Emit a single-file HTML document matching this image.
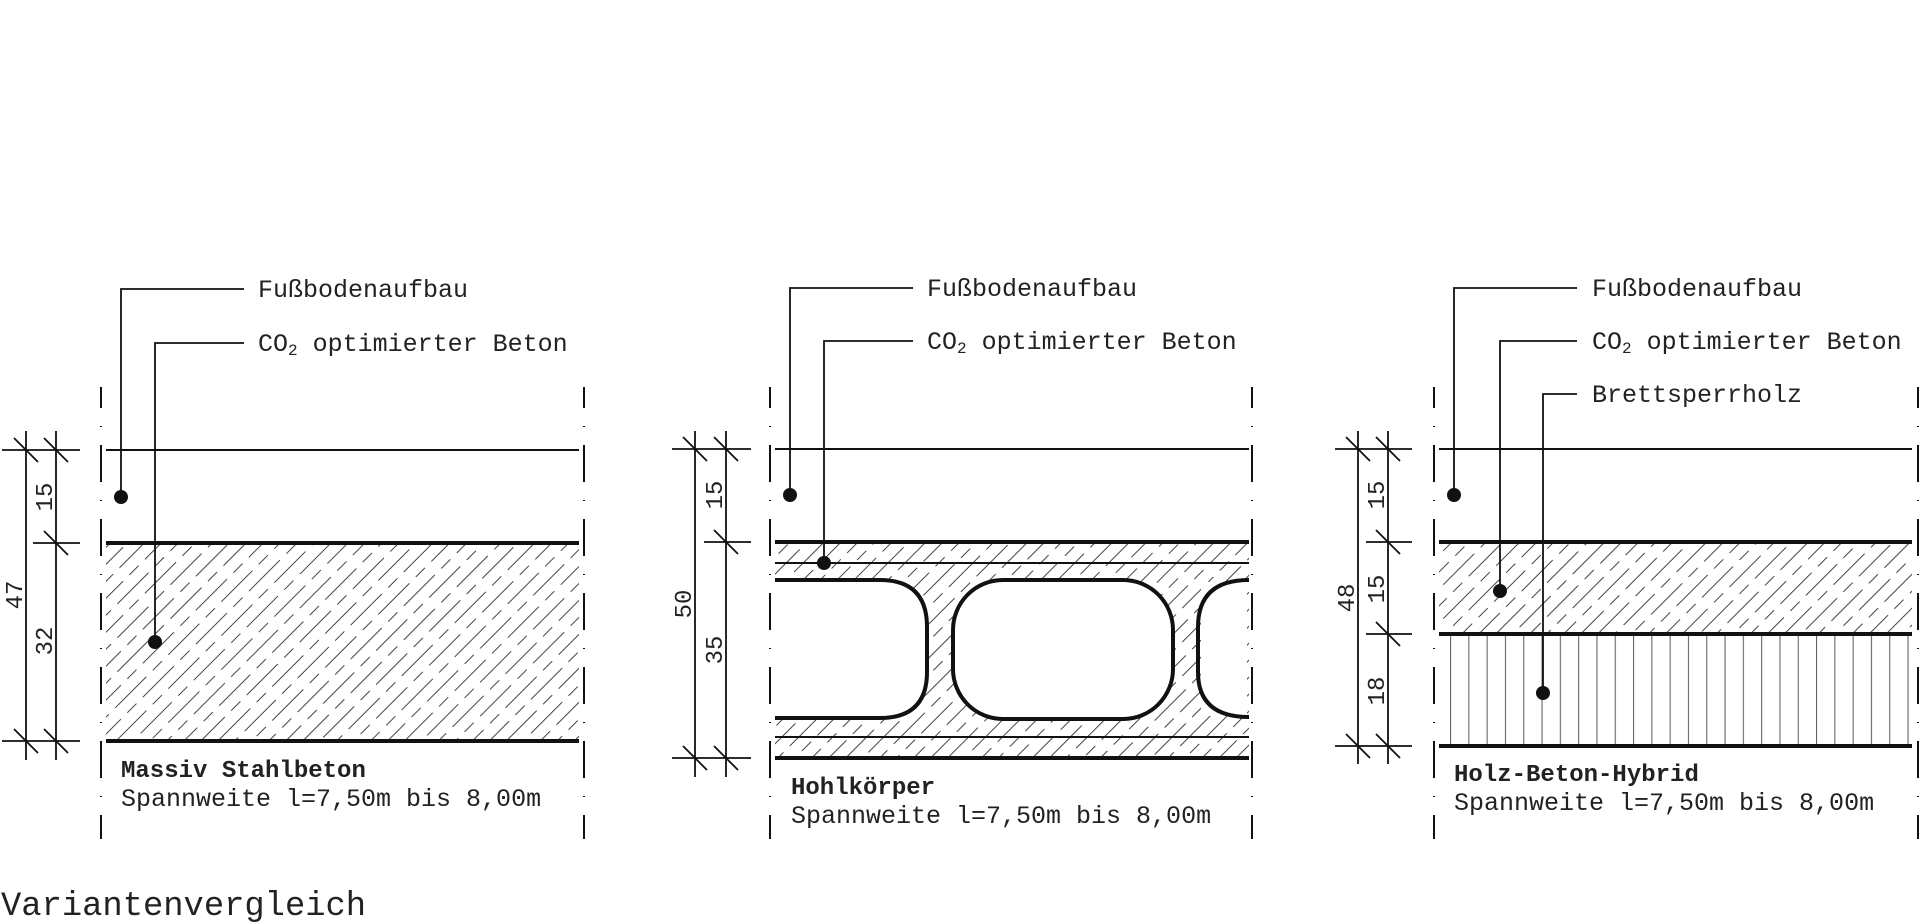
<!DOCTYPE html>
<html><head><meta charset="utf-8"><style>
html,body{margin:0;padding:0;background:#fff;}
svg{display:block;}
text{font-family:"Liberation Mono","DejaVu Sans Mono",monospace;fill:#222;}
</style></head><body>
<svg width="1920" height="924" viewBox="0 0 1920 924" xmlns="http://www.w3.org/2000/svg">
<defs>
<pattern id="h" patternUnits="userSpaceOnUse" width="36" height="75" patternTransform="rotate(45)">
<g stroke="#444" stroke-width="1" stroke-dasharray="44 9 13 9">
<line x1="6" y1="0" x2="6" y2="75"/>
<line x1="18" y1="0" x2="18" y2="75" stroke-dashoffset="27"/>
<line x1="30" y1="0" x2="30" y2="75" stroke-dashoffset="51"/>
</g>
</pattern>
<pattern id="w" patternUnits="userSpaceOnUse" x="1450" width="18.3" height="10">
<line x1="0.5" y1="0" x2="0.5" y2="10" stroke="#666" stroke-width="1.2"/>
</pattern>
</defs>
<g stroke="#111" fill="none">
<g stroke-width="2" stroke-dasharray="37 18 1 18" stroke-dashoffset="16">
<line x1="101" y1="387" x2="101" y2="839"/><line x1="584" y1="387" x2="584" y2="839"/>
<line x1="770" y1="387" x2="770" y2="839"/><line x1="1252" y1="387" x2="1252" y2="839"/>
<line x1="1434" y1="387" x2="1434" y2="839"/><line x1="1918" y1="387" x2="1918" y2="839"/>
</g>
</g>
<!-- PANEL 1 -->
<rect x="106" y="543" width="473" height="198" fill="url(#h)"/>
<g stroke="#111" fill="none">
<line x1="106" y1="450" x2="579" y2="450" stroke-width="2"/>
<line x1="106" y1="543" x2="579" y2="543" stroke-width="4"/>
<line x1="106" y1="741" x2="579" y2="741" stroke-width="4"/>
<polyline points="121,497 121,289 244,289" stroke-width="1.8"/>
<polyline points="155,642 155,343 244,343" stroke-width="1.8"/>
<g stroke-width="1.8">
<line x1="26" y1="431" x2="26" y2="760"/><line x1="56" y1="431" x2="56" y2="760"/>
<line x1="2" y1="450" x2="80" y2="450"/><line x1="33" y1="543" x2="80" y2="543"/><line x1="2" y1="741" x2="80" y2="741"/>
<path d="M14 438l24 24M44 438l24 24M44 531l24 24M14 729l24 24M44 729l24 24"/>
</g>
</g>
<circle cx="121" cy="497" r="7" fill="#111"/><circle cx="155" cy="642" r="7" fill="#111"/>
<text x="258" y="297" font-size="25">Fußbodenaufbau</text>
<text x="258" y="351" font-size="25">CO<tspan font-size="16" dy="4">2</tspan><tspan dy="-4"> optimierter Beton</tspan></text>
<text x="121" y="777" font-size="24" font-weight="bold" fill="#111">Massiv Stahlbeton</text>
<text x="121" y="806" font-size="25">Spannweite l=7,50m bis 8,00m</text>
<text transform="translate(22,595) rotate(-90)" font-size="24" text-anchor="middle">47</text>
<text transform="translate(52,497) rotate(-90)" font-size="24" text-anchor="middle">15</text>
<text transform="translate(52,641) rotate(-90)" font-size="24" text-anchor="middle">32</text>

<!-- PANEL 2 -->
<rect x="775" y="542" width="474" height="217" fill="url(#h)"/>
<g fill="#fff" stroke="#111" stroke-width="4">
<path d="M775 580 H880 Q927 580 927 627 V672 Q927 718 880 718 H775 Z" stroke="none"/>
<path d="M775 580 H880 Q927 580 927 627 V672 Q927 718 880 718 H775"/>
<rect x="953" y="580" width="220" height="139" rx="50" ry="50"/>
<rect x="1201" y="582" width="46" height="134" stroke="none"/>
<path d="M1249 580 Q1198 580 1198 627 V672 Q1198 717 1249 717" fill="none"/>
</g>
<g stroke="#111" fill="none">
<line x1="775" y1="449" x2="1249" y2="449" stroke-width="2"/>
<line x1="775" y1="542" x2="1249" y2="542" stroke-width="4"/>
<line x1="775" y1="563" x2="1249" y2="563" stroke-width="2"/>
<line x1="775" y1="737" x2="1249" y2="737" stroke-width="2"/>
<line x1="775" y1="758" x2="1249" y2="758" stroke-width="4"/>
<polyline points="790,495 790,288 913,288" stroke-width="1.8"/>
<polyline points="824,563 824,341 913,341" stroke-width="1.8"/>
<g stroke-width="1.8">
<line x1="695" y1="431" x2="695" y2="777"/><line x1="726" y1="431" x2="726" y2="777"/>
<line x1="672" y1="449" x2="751" y2="449"/><line x1="704" y1="542" x2="751" y2="542"/><line x1="672" y1="758" x2="751" y2="758"/>
<path d="M683 437l24 24M714 437l24 24M714 530l24 24M683 746l24 24M714 746l24 24"/>
</g>
</g>
<circle cx="790" cy="495" r="7" fill="#111"/><circle cx="824" cy="563" r="7" fill="#111"/>
<text x="927" y="296" font-size="25">Fußbodenaufbau</text>
<text x="927" y="349" font-size="25">CO<tspan font-size="16" dy="4">2</tspan><tspan dy="-4"> optimierter Beton</tspan></text>
<text x="791" y="794" font-size="24" font-weight="bold" fill="#111">Hohlkörper</text>
<text x="791" y="823" font-size="25">Spannweite l=7,50m bis 8,00m</text>
<text transform="translate(691,604) rotate(-90)" font-size="24" text-anchor="middle">50</text>
<text transform="translate(722,495) rotate(-90)" font-size="24" text-anchor="middle">15</text>
<text transform="translate(722,650) rotate(-90)" font-size="24" text-anchor="middle">35</text>

<!-- PANEL 3 -->
<rect x="1439" y="542" width="473" height="93" fill="url(#h)"/>
<rect x="1439" y="635" width="473" height="111" fill="url(#w)"/>
<g stroke="#111" fill="none">
<line x1="1439" y1="449" x2="1912" y2="449" stroke-width="2"/>
<line x1="1439" y1="542" x2="1912" y2="542" stroke-width="4"/>
<line x1="1439" y1="634" x2="1912" y2="634" stroke-width="4"/>
<line x1="1439" y1="746" x2="1912" y2="746" stroke-width="4"/>
<polyline points="1454,495 1454,288 1577,288" stroke-width="1.8"/>
<polyline points="1500,591 1500,341 1577,341" stroke-width="1.8"/>
<polyline points="1543,693 1543,394 1577,394" stroke-width="1.8"/>
<g stroke-width="1.8">
<line x1="1358" y1="431" x2="1358" y2="764"/><line x1="1388" y1="431" x2="1388" y2="764"/>
<line x1="1335" y1="449" x2="1412" y2="449"/><line x1="1366" y1="542" x2="1412" y2="542"/><line x1="1366" y1="634" x2="1412" y2="634"/><line x1="1335" y1="746" x2="1412" y2="746"/>
<path d="M1346 437l24 24M1376 437l24 24M1376 530l24 24M1376 622l24 24M1346 734l24 24M1376 734l24 24"/>
</g>
</g>
<circle cx="1454" cy="495" r="7" fill="#111"/><circle cx="1500" cy="591" r="7" fill="#111"/><circle cx="1543" cy="693" r="7" fill="#111"/>
<text x="1592" y="296" font-size="25">Fußbodenaufbau</text>
<text x="1592" y="349" font-size="25">CO<tspan font-size="16" dy="4">2</tspan><tspan dy="-4"> optimierter Beton</tspan></text>
<text x="1592" y="402" font-size="25">Brettsperrholz</text>
<text x="1454" y="781" font-size="24" font-weight="bold" fill="#111">Holz-Beton-Hybrid</text>
<text x="1454" y="810" font-size="25">Spannweite l=7,50m bis 8,00m</text>
<text transform="translate(1354,598) rotate(-90)" font-size="24" text-anchor="middle">48</text>
<text transform="translate(1384,495) rotate(-90)" font-size="24" text-anchor="middle">15</text>
<text transform="translate(1384,589) rotate(-90)" font-size="24" text-anchor="middle">15</text>
<text transform="translate(1384,691) rotate(-90)" font-size="24" text-anchor="middle">18</text>

<text x="1" y="915" font-size="33.8">Variantenvergleich</text>
</svg>
</body></html>
